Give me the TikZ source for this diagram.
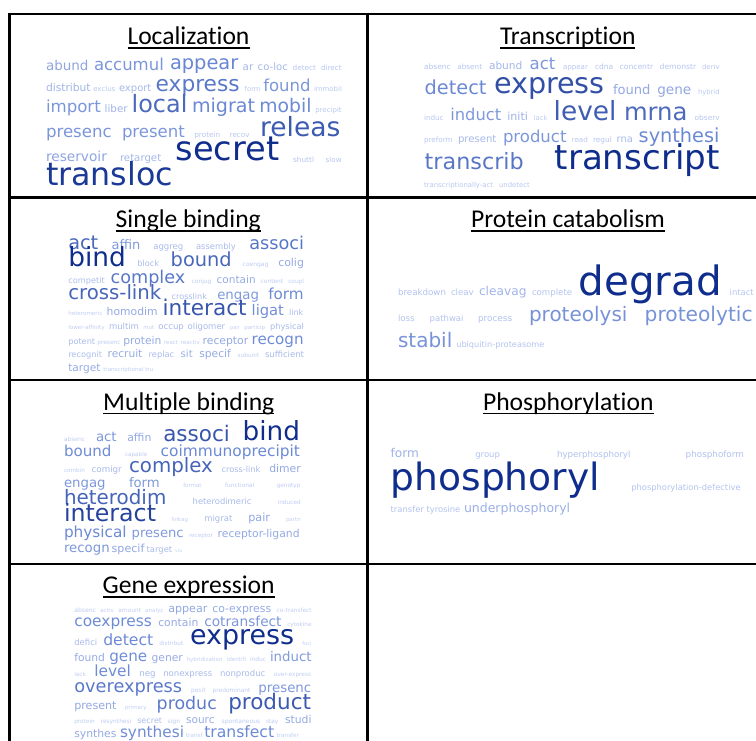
\documentclass[tikz,border=0pt]{standalone}
\usepackage{fontspec}
\newfontfamily\wcf{DejaVu Sans}
\newfontfamily\ttlf[RawFeature={-liga}]{Carlito}
\definecolor{wlt}{RGB}{198,210,245}
\definecolor{wmid}{RGB}{105,135,212}
\definecolor{wdk}{RGB}{15,45,140}
\newcounter{wcn}
\def\smax{30}
\newcommand\wc[4]{%
  \stepcounter{wcn}%
  \pgfmathsetmacro\wcT{max(0,min(1,(#3-5)/(\smax-5)))}%
  \ifdim\wcT pt<0.5pt
    \pgfmathsetmacro\wcP{200*\wcT}%
    \colorlet{wcol}{wmid!\wcP!wlt}%
  \else
    \pgfmathsetmacro\wcP{200*\wcT-100}%
    \colorlet{wcol}{wdk!\wcP!wmid}%
  \fi
  \node[word,text=wcol,font={\wcf\fontsize{#3}{#3}\selectfont}] (w\thewcn) at (#1,#2) {#4};%
}
\begin{document}
\begin{tikzpicture}[x=1pt,y=-1pt,
  word/.style={anchor=base west,inner sep=0pt,outer sep=0pt},
  ttl/.style={anchor=base,inner sep=0pt,outer sep=0pt,text=black,font={\ttlf\fontsize{25.6}{26}\selectfont}},
  uline/.style={line width=1.8pt,black},
  gridline/.style={line width=2.8pt,black}]
\useasboundingbox (0,0) rectangle (756,740);
\clip (0,0) rectangle (756,740);
% table
\draw[gridline] (8.4,14) -- (770,14);
\draw[gridline] (8.4,197.5) -- (770,197.5);
\draw[gridline] (8.4,380) -- (770,380);
\draw[gridline] (8.4,564) -- (770,564);
\draw[gridline] (9.8,12.6) -- (9.8,745);
\draw[gridline] (367.5,12.6) -- (367.5,745);
% titles
\node[ttl] (t1) at (188.5,44.3) {Localization};
\node[ttl] (t2) at (567.8,44.3) {Transcription};
\node[ttl] (t3) at (188.3,227.5) {Single binding};
\node[ttl] (t4) at (568,227.5) {Protein catabolism};
\node[ttl] (t5) at (188.8,410) {Multiple binding};
\node[ttl] (t6) at (568.3,410) {Phosphorylation};
\node[ttl] (t7) at (188.7,593.3) {Gene expression};
\foreach \t in {t1,t2,t3,t4,t5,t6,t7}
  \draw[uline] ([yshift=-3.4pt]\t.base west) -- ([yshift=-3.4pt]\t.base east);
% Localization
\def\smax{33.6}
\wc{46}{70}{13.5}{abund}
\wc{94}{70}{16.5}{accumul}
\wc{170}{69.5}{19.4}{appear}
\wc{242.7}{70}{10.3}{ar}
\wc{257.7}{70}{10.1}{co-loc}
\wc{292.7}{70}{7.3}{detect}
\wc{321}{70}{7.2}{direct}
\wc{46}{91}{10.7}{distribut}
\wc{93.3}{91}{7.0}{exclus}
\wc{119}{91}{10.0}{export}
\wc{155.7}{91}{21.7}{express}
\wc{244.7}{91}{6.8}{form}
\wc{263.3}{91}{16.5}{found}
\wc{314}{91}{6.95}{immobil}
\wc{46}{112.7}{16.6}{import}
\wc{104.7}{112.7}{10.4}{liber}
\wc{131.7}{112.7}{23.9}{local}
\wc{192}{112.7}{19.1}{migrat}
\wc{259.3}{112.7}{18.8}{mobil}
\wc{315.3}{112.7}{7.0}{precipit}
\wc{46}{137.3}{16.6}{presenc}
\wc{122}{137.3}{16.5}{present}
\wc{194.3}{137.3}{7.3}{protein}
\wc{229.7}{137.3}{7.2}{recov}
\wc{260}{136.7}{26.5}{releas}
\wc{46}{161.7}{13.7}{reservoir}
\wc{120}{161.7}{10.2}{retarget}
\wc{175.7}{160}{33.6}{secret}
\wc{293}{162}{7.4}{shuttl}
\wc{325.7}{162}{7.2}{slow}
\wc{46}{185.7}{31.7}{transloc}
% Transcription
\def\smax{34.1}
\wc{424}{69}{7.5}{absenc}
\wc{457.3}{69}{7.3}{absent}
\wc{489}{69}{10.6}{abund}
\wc{529.7}{69}{16.5}{act}
\wc{563}{69}{7.1}{appear}
\wc{595}{69}{7.5}{cdna}
\wc{619.7}{69}{7.6}{concentr}
\wc{659.7}{69}{7.6}{demonstr}
\wc{702}{69}{7.0}{deriv}
\wc{424.7}{94}{19.3}{detect}
\wc{494}{93.3}{28.6}{express}
\wc{613}{94}{13.1}{found}
\wc{657.3}{94}{13.6}{gene}
\wc{698}{94}{6.8}{hybrid}
\wc{424}{120}{7.2}{induc}
\wc{450.3}{120}{16.3}{induct}
\wc{507.3}{120}{11.1}{initi}
\wc{533.7}{120}{6.8}{lack}
\wc{553.7}{120}{26.4}{level}
\wc{624}{120}{24.3}{mrna}
\wc{694.7}{120}{7.4}{observ}
\wc{424}{142.7}{7.2}{preform}
\wc{458}{142.7}{10.1}{present}
\wc{503}{142.7}{16.5}{product}
\wc{571.7}{142.7}{7.2}{read}
\wc{593}{142.7}{7.4}{regul}
\wc{616.7}{142.7}{9.9}{rna}
\wc{638.7}{142}{19.3}{synthesi}
\wc{424.7}{169.3}{22.3}{transcrib}
\wc{554.7}{169.3}{34.1}{transcript}
\wc{424}{187.7}{6.9}{transcriptionally-act}
\wc{499}{187.7}{6.9}{undetect}
% Single binding
\def\smax{26.4}
\wc{68.3}{249}{19.3}{act}
\wc{111.7}{249}{13.0}{affin}
\wc{153.3}{249}{8.5}{aggreg}
\wc{196}{249}{8.4}{assembly}
\wc{249.3}{249}{17.7}{associ}
\wc{68.3}{266.7}{26.4}{bind}
\wc{137.3}{266.7}{8.2}{block}
\wc{170.7}{266.7}{19.4}{bound}
\wc{242.7}{266.7}{6.0}{coengag}
\wc{278.3}{266.7}{10.9}{colig}
\wc{68.3}{283}{8.2}{competit}
\wc{110.7}{283}{17.6}{complex}
\wc{191.7}{283}{5.9}{conjug}
\wc{216.7}{283}{10.5}{contain}
\wc{260.7}{283}{5.9}{content}
\wc{288.3}{283}{5.8}{coupl}
\wc{68.3}{299}{19.7}{cross-link}
\wc{171.7}{299}{8.1}{crosslink}
\wc{217.3}{299}{13.3}{engag}
\wc{268.3}{299}{15.2}{form}
\wc{68.3}{315.7}{5.6}{heteromeric}
\wc{106.7}{315.7}{10.8}{homodim}
\wc{162.7}{315.7}{21.6}{interact}
\wc{251.7}{315.7}{14.7}{ligat}
\wc{289}{315.7}{8.1}{link}
\wc{68.3}{329}{5.6}{lower-affinity}
\wc{109}{329}{8.5}{multim}
\wc{143.3}{329}{5.5}{mut}
\wc{158.3}{329}{8.6}{occup}
\wc{187.7}{329}{8.5}{oligomer}
\wc{230}{329}{5.2}{pair}
\wc{244.3}{329}{5.5}{particip}
\wc{270}{329}{8.3}{physical}
\wc{68.3}{344}{8.2}{potent}
\wc{97.3}{344}{5.9}{presenc}
\wc{123.3}{344}{10.7}{protein}
\wc{164}{344}{5.5}{react}
\wc{180.7}{344}{5.6}{reactiv}
\wc{202.7}{344}{10.8}{receptor}
\wc{251.7}{344}{15.1}{recogn}
\wc{68.3}{357.7}{8.2}{recognit}
\wc{107.7}{357.7}{10.6}{recruit}
\wc{148.7}{357.7}{8.3}{replac}
\wc{180.7}{357.7}{10.1}{sit}
\wc{199.3}{357.7}{10.7}{specif}
\wc{237.7}{357.7}{5.8}{subunit}
\wc{265}{357.7}{8.5}{sufficient}
\wc{68.3}{371}{10.6}{target}
\wc{103.3}{371}{5.55}{transcriptional}
\wc{145.3}{371}{5.55}{tru}
% Protein catabolism
\def\smax{40.4}
\wc{398}{295.7}{8.7}{breakdown}
\wc{451}{295.7}{8.6}{cleav}
\wc{479}{295.7}{12.2}{cleavag}
\wc{532}{295.7}{8.6}{complete}
\wc{578.7}{295}{40.4}{degrad}
\wc{729.7}{295.7}{8.4}{intact}
\wc{398}{321.7}{8.6}{loss}
\wc{429.7}{321.7}{8.5}{pathwai}
\wc{478}{321.7}{8.9}{process}
\wc{529}{321.7}{20.0}{proteolysi}
\wc{644.7}{321.7}{20.2}{proteolytic}
\wc{398}{347.7}{20.0}{stabil}
\wc{456.3}{347.7}{8.2}{ubiquitin-proteasome}
% Multiple binding
\def\smax{26.3}
\wc{64}{441}{5.9}{absenc}
\wc{96}{441}{13.3}{act}
\wc{127.3}{441}{10.9}{affin}
\wc{163.3}{441}{21.5}{associ}
\wc{242.7}{440}{26.3}{bind}
\wc{64}{456}{15.1}{bound}
\wc{125}{456}{5.7}{capable}
\wc{160.7}{456}{15.4}{coimmunoprecipit}
\wc{64}{472.7}{5.7}{combin}
\wc{91.7}{472.7}{8.7}{comigr}
\wc{129}{472.7}{19.8}{complex}
\wc{221.7}{472.7}{8.2}{cross-link}
\wc{269.3}{472.7}{10.8}{dimer}
\wc{64}{487.7}{13.3}{engag}
\wc{129}{487.7}{13.2}{form}
\wc{183.3}{487.7}{5.5}{format}
\wc{225}{487.7}{5.9}{functional}
\wc{276.7}{487.7}{5.8}{genotyp}
\wc{64}{504}{19.9}{heterodim}
\wc{192.7}{504}{8.4}{heterodimeric}
\wc{277.7}{504}{5.8}{induced}
\wc{64}{521.7}{23.7}{interact}
\wc{171.7}{521.7}{5.5}{linkag}
\wc{204.3}{521.7}{8.5}{migrat}
\wc{248.3}{521.7}{11.2}{pair}
\wc{286}{521.7}{5.5}{partn}
\wc{64}{537.3}{15.3}{physical}
\wc{131.7}{537.3}{13.1}{presenc}
\wc{189}{537.3}{5.7}{receptor}
\wc{217.7}{537.3}{10.8}{receptor-ligand}
\wc{64}{552.3}{13.3}{recogn}
\wc{111.7}{552.3}{11.1}{specif}
\wc{146.7}{552.3}{8.4}{target}
\wc{175}{552.3}{4.7}{via}
% Phosphorylation
\def\smax{37.6}
\wc{390.7}{457.7}{12.1}{form}
\wc{475.3}{457.7}{8.5}{group}
\wc{557}{457.7}{8.7}{hyperphosphoryl}
\wc{685.7}{457.7}{8.8}{phosphoform}
\wc{390.7}{490}{37.6}{phosphoryl}
\wc{631.3}{490}{8.35}{phosphorylation-defective}
\wc{390.7}{512.3}{8.4}{transfer}
\wc{426.5}{512.3}{8.4}{tyrosine}
\wc{464}{512.3}{12.5}{underphosphoryl}
% Gene expression
\def\smax{26.9}
\wc{74.3}{612.3}{6.1}{absenc}
\wc{100.3}{612.3}{5.6}{activ}
\wc{118.3}{612.3}{5.9}{amount}
\wc{145.3}{612.3}{5.5}{analyz}
\wc{168.3}{612.3}{11.1}{appear}
\wc{212.3}{612.3}{10.9}{co-express}
\wc{276.7}{612.3}{5.8}{co-transfect}
\wc{74.3}{626.7}{15.4}{coexpress}
\wc{158.3}{626.7}{10.8}{contain}
\wc{204.3}{626.7}{13.7}{cotransfect}
\wc{287.3}{626.7}{5.7}{cytokine}
\wc{74.3}{645.7}{8.5}{defici}
\wc{103.3}{645.7}{15.6}{detect}
\wc{159.3}{645.7}{5.75}{distribut}
\wc{190}{644.3}{26.9}{express}
\wc{302.3}{645.7}{5.2}{foci}
\wc{74.3}{661}{10.7}{found}
\wc{109.3}{661}{15.2}{gene}
\wc{151.7}{661}{10.7}{gener}
\wc{186.7}{661}{5.5}{hybridization}
\wc{226.7}{661}{5.6}{identifi}
\wc{250}{661}{5.9}{induc}
\wc{270}{661}{13.3}{induct}
\wc{74.3}{676.7}{5.8}{lack}
\wc{94.3}{676.7}{15.4}{level}
\wc{139.3}{676.7}{8.7}{neg}
\wc{163.3}{676.7}{8.5}{nonexpress}
\wc{220}{676.7}{8.5}{nonproduc}
\wc{274}{676.7}{5.8}{over-express}
\wc{74.3}{692.3}{17.75}{overexpress}
\wc{191}{692.3}{6.0}{posit}
\wc{212.7}{692.3}{5.9}{predominant}
\wc{258.3}{692.3}{13.4}{presenc}
\wc{74.3}{709.3}{11.1}{present}
\wc{125}{709.3}{5.5}{primary}
\wc{156.7}{709.3}{17.4}{produc}
\wc{228.3}{709.3}{21.5}{product}
\wc{74.3}{723.3}{5.8}{protein}
\wc{100.7}{723.3}{5.9}{resynthesi}
\wc{137.3}{723.3}{8.05}{secret}
\wc{167.7}{723.3}{6.0}{sign}
\wc{186}{723.3}{10.6}{sourc}
\wc{221.7}{723.3}{6.0}{spontaneous}
\wc{266}{723.3}{5.8}{stay}
\wc{285}{723.3}{10.8}{studi}
\wc{74.3}{737.7}{10.8}{synthes}
\wc{120}{737.7}{15.3}{synthesi}
\wc{186}{737.7}{5.7}{transf}
\wc{204.3}{737.7}{15.6}{transfect}
\wc{276.7}{737.7}{5.65}{transfer}
\end{tikzpicture}
\end{document}
